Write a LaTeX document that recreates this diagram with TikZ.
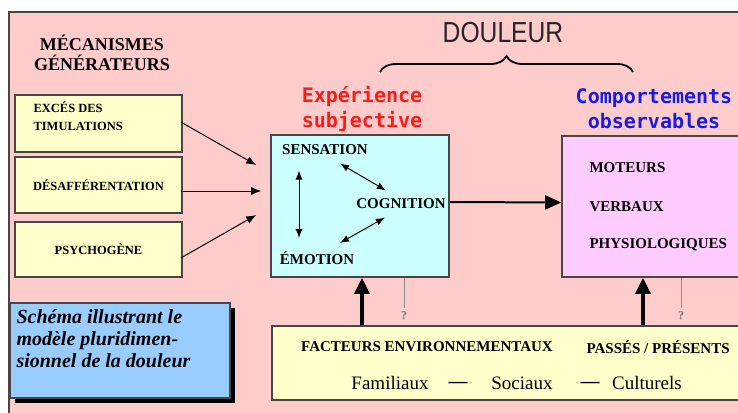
\documentclass[tikz,border=0pt]{standalone}
\usepackage{fontspec}
\setmainfont{Liberation Serif}
\newfontfamily\pixfont{DejaVu Sans Mono}
\newfontfamily\thinfont[FakeStretch=0.85]{Liberation Sans}
\usetikzlibrary{arrows.meta,calc,positioning,decorations.pathreplacing,shadows}
\definecolor{fondrose}{HTML}{FFCCCC}
\definecolor{jaune}{HTML}{FFFFCC}
\definecolor{cyanpale}{HTML}{CCFFFF}
\definecolor{mauve}{HTML}{FFCCFF}
\definecolor{bleuciel}{HTML}{99CCFF}
\definecolor{cadre}{HTML}{4A4545}
\definecolor{rouge}{HTML}{FF1A1A}
\definecolor{bleu}{HTML}{1A1AE6}

\begin{document}
\begin{tikzpicture}[x=1pt,y=-1pt,
  boite/.style={draw=cadre, line width=1.6pt, inner sep=0pt},
  petit/.style={font=\fontsize{12.5}{18}\selectfont\bfseries},
  moyen/.style={font=\fontsize{15}{18}\selectfont\bfseries},
  titre/.style={font=\pixfont\fontsize{20}{25}\selectfont\bfseries, align=center},
  fine/.style={-{Latex[length=10pt,width=8pt]}, line width=1pt},
  double/.style={{Latex[length=9pt,width=7pt]}-{Latex[length=9pt,width=7pt]}, line width=1pt},
  grosse/.style={-{Triangle[length=16pt,width=15pt]}, line width=3.5pt}]
\useasboundingbox (0,0) rectangle (738,412);
\clip (0,0) rectangle (738,412);
% fond
\fill[white] (0,0) rectangle (738,412);
\fill[fondrose] (9,12) rectangle (760,430);
\draw[cadre, line width=2pt] (9,430) -- (9,12) -- (760,12);
% titres
\node[align=center, font=\fontsize{18}{20}\selectfont\bfseries] (meca) at (102,53) {MÉCANISMES\\GÉNÉRATEURS};
\node[font=\thinfont\fontsize{29}{30}\selectfont, text=black!85] (dou) at (503,33) {DOULEUR};
\draw[line width=1.8pt, decorate, decoration={brace, amplitude=16pt}] (380,72) -- (633,72);
\node[titre, text=rouge] (exp) at (362,109) {Expérience\\subjective};
\node[titre, text=bleu] (obs) at (654,109) {Comportements\\observables};
% mecanismes
\node[boite, fill=jaune, minimum width=167pt, minimum height=57pt] (stim) at (98.5,123.5) {};
\node[petit, align=left, anchor=west] (stimt) at (30,116) {EXCÉS DES\\TIMULATIONS};
\node[boite, fill=jaune, minimum width=167pt, minimum height=56pt, petit] (desa) at (98.5,185) {DÉSAFFÉRENTATION};
\node[boite, fill=jaune, minimum width=167pt, minimum height=55pt, petit] (psy) at (98.5,249.5) {PSYCHOGÈNE};
% experience subjective
\node[boite, fill=cyanpale, minimum width=178pt, minimum height=142pt] (subj) at (360,206) {};
\node[moyen] (sens) at (325,150) {SENSATION};
\node[moyen] (cog) at (401,204) {COGNITION};
\node[moyen] (emo) at (317,258) {ÉMOTION};
\coordinate (c3) at (299,0);
\draw[double, shorten <=12pt, shorten >=10pt] (sens.south -| c3) -- (emo.north -| c3);
\draw[double] ([xshift=15pt,yshift=-5pt]sens.south) -- ([xshift=33pt,yshift=5pt]cog.north west);
\draw[double] ([xshift=32pt,yshift=-5pt]cog.south west) -- ([xshift=23pt,yshift=5pt]emo.north);
% comportements
\node[boite, fill=mauve, minimum width=240pt, minimum height=141pt] (comp) at (682,206.5) {};
\node[moyen, anchor=west] (mot) at (586,168) {MOTEURS};
\node[moyen, anchor=west] (ver) at (586,207) {VERBAUX};
\node[moyen, anchor=west] (phy) at (586,245) {PHYSIOLOGIQUES};
% facteurs
\node[boite, fill=jaune, minimum width=520pt, minimum height=74pt] (env) at (532,363) {};
\node[moyen] (fac) at (427,347) {FACTEURS ENVIRONNEMENTAUX};
\node[moyen, anchor=west] (pas) at (583,347) {PASSÉS / PRÉSENTS};
\node[font=\fontsize{19}{20}\selectfont] (fam) at (390,383) {Familiaux};
\node[font=\fontsize{19}{20}\selectfont\bfseries] (tir1) at (458,385) {---};
\node[font=\fontsize{19}{20}\selectfont] (soc) at (522,383) {Sociaux};
\node[font=\fontsize{19}{20}\selectfont\bfseries] (tir2) at (590,385) {---};
\node[font=\fontsize{19}{20}\selectfont] (cul) at (647,383) {Culturels};
% schema
\node[boite, fill=bleuciel, minimum width=220pt, minimum height=95pt, drop shadow={shadow xshift=5pt, shadow yshift=-5pt, opacity=1, fill=black}] (sch) at (120,350.5) {};
\node[anchor=north west, align=left, font=\fontsize{20}{22}\selectfont\bfseries\itshape] (scht) at (13,306) {Schéma illustrant le\\modèle pluridimen-\\sionnel de la douleur};
% fleches
\draw[fine] ([xshift=-2pt,yshift=1.5pt]stim.east) -- ($(subj.west)+(-14,-41)$);
\draw[fine] ([xshift=-2pt,yshift=-6pt]desa.east) -- ($(subj.west)+(-9,-15)$);
\draw[fine] ([xshift=-2pt,yshift=-8.5pt]psy.east) -- ($(subj.west)+(-14,9)$);
\draw[-{Triangle[length=16pt,width=14pt]}, line width=2pt] ([yshift=4pt]subj.east) -- ([yshift=4pt]comp.west);
\coordinate (c1) at (362,0);
\coordinate (c2) at (643,0);
\draw[grosse] (env.north -| c1) -- (subj.south -| c1);
\draw[grosse] (env.north -| c2) -- (comp.south -| c2);
\node[text=black!55, font=\fontsize{12}{12}\selectfont\bfseries] (q1) at (404,316) {?};
\node[text=black!55, font=\fontsize{12}{12}\selectfont\bfseries] (q2) at (681,316) {?};
\draw[black!45, line width=0.8pt] (subj.south -| q1) -- (q1);
\draw[black!45, line width=0.8pt] (comp.south -| q2) -- (q2);
\end{tikzpicture}
\end{document}
